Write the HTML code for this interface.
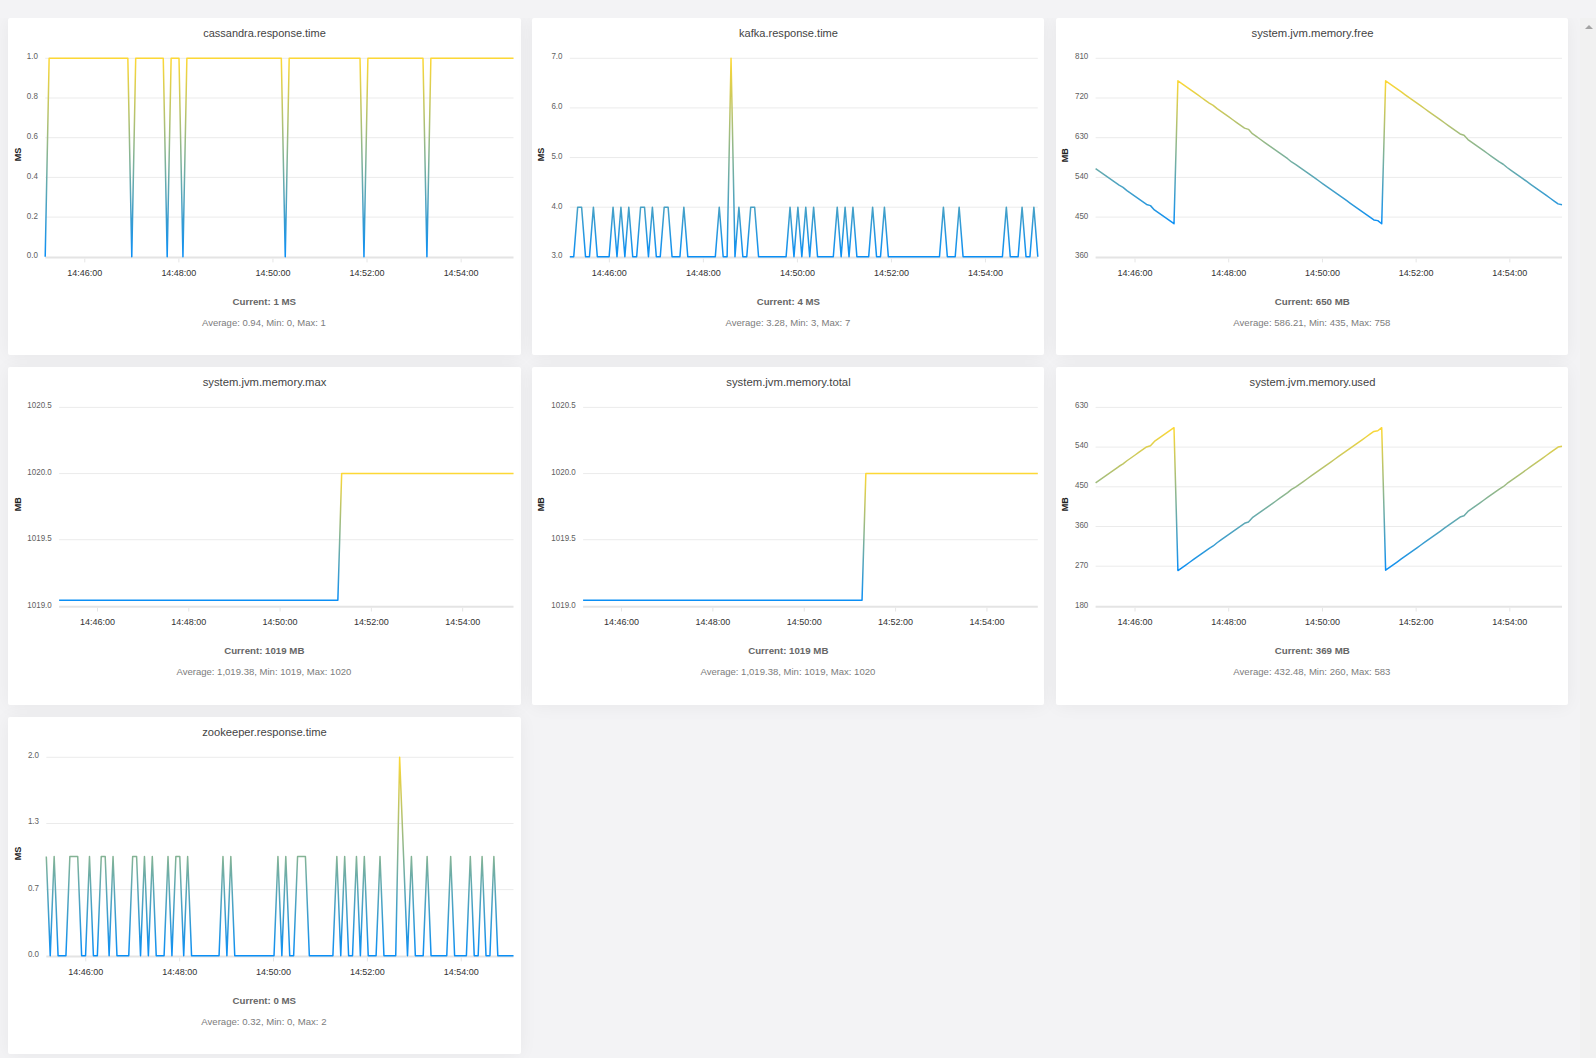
<!DOCTYPE html>
<html lang="en">
<head>
<meta charset="utf-8">
<title>Metrics dashboard</title>
<style>
html,body{margin:0;padding:0}
body{width:1596px;height:1058px;overflow:hidden;background:#f3f3f5;position:relative;font-family:"Liberation Sans",Arial,sans-serif}
.sb{position:absolute;left:1580px;top:18px;width:16px;height:1040px;background:#f1f1f1}
.sb i{position:absolute;left:4.5px;top:6.7px;width:0;height:0;border-left:4px solid transparent;border-right:4px solid transparent;border-bottom:4px solid #a3a3a3}
.wrap{position:absolute;left:0;top:18px;width:1580px;height:1040px;overflow:hidden}
.card{position:absolute;width:512px;background:#fff;border-radius:2px;box-shadow:0 1px 18px rgba(0,0,0,.05)}
.chart{display:block;position:absolute;left:0;top:0;overflow:visible}
.chart text{font-family:"Liberation Sans",Arial,sans-serif}
.ttl{font-size:10px;fill:#444}
.yl{font-size:8.5px;fill:#606060}
.xl{font-size:9.7px;fill:#333}
.yt{font-size:9px;font-weight:bold;fill:#222}
.cur{font-size:9px;font-weight:bold;fill:#666}
.st{font-size:8.8px;fill:#7c7c7c}
.grid{stroke:#ebebeb;stroke-width:1;fill:none}
.axis{stroke:#e4e4e4;stroke-width:2;fill:none}
.tick{stroke:#e6e6e6;stroke-width:1;fill:none}
.ser{fill:none;stroke-width:1.5;stroke-linejoin:round;stroke-linecap:butt}
</style>
</head>
<body>
<div class="sb"><i></i></div>
<div class="wrap">

<div class="card" style="left:8px;top:0px;width:513px;height:337px">
<svg class="chart" width="512" height="337" viewBox="0 0 512 337">
<defs><linearGradient id="g0" x1="0" y1="0" x2="0" y2="1"><stop offset="0" stop-color="#fdd835"/><stop offset="1" stop-color="#0b8ff5"/></linearGradient></defs>
<text class="ttl" x="256.5" y="18.8" text-anchor="middle" textLength="122.5" lengthAdjust="spacingAndGlyphs">cassandra.response.time</text>
<path class="grid" d="M37.2 40.3 H505.5"/>
<text class="yl" x="29.9" y="41" text-anchor="end" textLength="11.12" lengthAdjust="spacingAndGlyphs">1.0</text>
<path class="grid" d="M37.2 80 H505.5"/>
<text class="yl" x="29.9" y="81" text-anchor="end" textLength="11.12" lengthAdjust="spacingAndGlyphs">0.8</text>
<path class="grid" d="M37.2 119.7 H505.5"/>
<text class="yl" x="29.9" y="121" text-anchor="end" textLength="11.12" lengthAdjust="spacingAndGlyphs">0.6</text>
<path class="grid" d="M37.2 159.4 H505.5"/>
<text class="yl" x="29.9" y="161" text-anchor="end" textLength="11.12" lengthAdjust="spacingAndGlyphs">0.4</text>
<path class="grid" d="M37.2 199.1 H505.5"/>
<text class="yl" x="29.9" y="201" text-anchor="end" textLength="11.12" lengthAdjust="spacingAndGlyphs">0.2</text>
<text class="yl" x="29.9" y="240" text-anchor="end" textLength="11.12" lengthAdjust="spacingAndGlyphs">0.0</text>
<text class="yt" transform="translate(13.2 136.4) rotate(-90)" text-anchor="middle">MS</text>
<path class="axis" d="M37.2 239.6 H505.5"/>
<path class="tick" d="M76.79 240.6 V244.4"/>
<text class="xl" x="76.79" y="258" text-anchor="middle" textLength="35" lengthAdjust="spacingAndGlyphs">14:46:00</text>
<path class="tick" d="M170.88 240.6 V244.4"/>
<text class="xl" x="170.88" y="258" text-anchor="middle" textLength="35" lengthAdjust="spacingAndGlyphs">14:48:00</text>
<path class="tick" d="M264.96 240.6 V244.4"/>
<text class="xl" x="264.96" y="258" text-anchor="middle" textLength="35" lengthAdjust="spacingAndGlyphs">14:50:00</text>
<path class="tick" d="M359.04 240.6 V244.4"/>
<text class="xl" x="359.04" y="258" text-anchor="middle" textLength="35" lengthAdjust="spacingAndGlyphs">14:52:00</text>
<path class="tick" d="M453.13 240.6 V244.4"/>
<text class="xl" x="453.13" y="258" text-anchor="middle" textLength="35" lengthAdjust="spacingAndGlyphs">14:54:00</text>
<path class="ser" stroke="url(#g0)" d="M37.2 238.8 L41.14 40.3 L45.07 40.3 L49.01 40.3 L52.94 40.3 L56.88 40.3 L60.81 40.3 L64.75 40.3 L68.68 40.3 L72.62 40.3 L76.55 40.3 L80.49 40.3 L84.42 40.3 L88.36 40.3 L92.29 40.3 L96.23 40.3 L100.16 40.3 L104.1 40.3 L108.04 40.3 L111.97 40.3 L115.91 40.3 L119.84 40.3 L123.78 238.8 L127.71 40.3 L131.65 40.3 L135.58 40.3 L139.52 40.3 L143.45 40.3 L147.39 40.3 L151.32 40.3 L155.26 40.3 L159.19 238.8 L163.13 40.3 L167.06 40.3 L171 40.3 L174.94 238.8 L178.87 40.3 L182.81 40.3 L186.74 40.3 L190.68 40.3 L194.61 40.3 L198.55 40.3 L202.48 40.3 L206.42 40.3 L210.35 40.3 L214.29 40.3 L218.22 40.3 L222.16 40.3 L226.09 40.3 L230.03 40.3 L233.96 40.3 L237.9 40.3 L241.84 40.3 L245.77 40.3 L249.71 40.3 L253.64 40.3 L257.58 40.3 L261.51 40.3 L265.45 40.3 L269.38 40.3 L273.32 40.3 L277.25 238.8 L281.19 40.3 L285.12 40.3 L289.06 40.3 L292.99 40.3 L296.93 40.3 L300.86 40.3 L304.8 40.3 L308.74 40.3 L312.67 40.3 L316.61 40.3 L320.54 40.3 L324.48 40.3 L328.41 40.3 L332.35 40.3 L336.28 40.3 L340.22 40.3 L344.15 40.3 L348.09 40.3 L352.02 40.3 L355.96 238.8 L359.89 40.3 L363.83 40.3 L367.76 40.3 L371.7 40.3 L375.64 40.3 L379.57 40.3 L383.51 40.3 L387.44 40.3 L391.38 40.3 L395.31 40.3 L399.25 40.3 L403.18 40.3 L407.12 40.3 L411.05 40.3 L414.99 40.3 L418.92 238.8 L422.86 40.3 L426.79 40.3 L430.73 40.3 L434.66 40.3 L438.6 40.3 L442.54 40.3 L446.47 40.3 L450.41 40.3 L454.34 40.3 L458.28 40.3 L462.21 40.3 L466.15 40.3 L470.08 40.3 L474.02 40.3 L477.95 40.3 L481.89 40.3 L485.82 40.3 L489.76 40.3 L493.69 40.3 L497.63 40.3 L501.56 40.3 L505.5 40.3"/>
<text class="cur" x="256.3" y="286.8" text-anchor="middle" textLength="63.6" lengthAdjust="spacingAndGlyphs">Current: 1 MS</text>
<text class="st" x="255.9" y="307.9" text-anchor="middle" textLength="123.8" lengthAdjust="spacingAndGlyphs">Average: 0.94, Min: 0, Max: 1</text>
</svg>
</div>
<div class="card" style="left:532px;top:0px;width:512px;height:337px">
<svg class="chart" width="512" height="337" viewBox="0 0 512 337">
<defs><linearGradient id="g1" x1="0" y1="0" x2="0" y2="1"><stop offset="0" stop-color="#fdd835"/><stop offset="1" stop-color="#0b8ff5"/></linearGradient></defs>
<text class="ttl" x="256.5" y="18.8" text-anchor="middle" textLength="98.9" lengthAdjust="spacingAndGlyphs">kafka.response.time</text>
<path class="grid" d="M37.8 40.3 H505.8"/>
<text class="yl" x="30.5" y="41" text-anchor="end" textLength="11.12" lengthAdjust="spacingAndGlyphs">7.0</text>
<path class="grid" d="M37.8 89.92 H505.8"/>
<text class="yl" x="30.5" y="91" text-anchor="end" textLength="11.12" lengthAdjust="spacingAndGlyphs">6.0</text>
<path class="grid" d="M37.8 139.55 H505.8"/>
<text class="yl" x="30.5" y="141" text-anchor="end" textLength="11.12" lengthAdjust="spacingAndGlyphs">5.0</text>
<path class="grid" d="M37.8 189.18 H505.8"/>
<text class="yl" x="30.5" y="191" text-anchor="end" textLength="11.12" lengthAdjust="spacingAndGlyphs">4.0</text>
<text class="yl" x="30.5" y="240" text-anchor="end" textLength="11.12" lengthAdjust="spacingAndGlyphs">3.0</text>
<text class="yt" transform="translate(12.2 136.4) rotate(-90)" text-anchor="middle">MS</text>
<path class="axis" d="M37.8 239.6 H505.8"/>
<path class="tick" d="M77.37 240.6 V244.4"/>
<text class="xl" x="77.37" y="258" text-anchor="middle" textLength="35" lengthAdjust="spacingAndGlyphs">14:46:00</text>
<path class="tick" d="M171.39 240.6 V244.4"/>
<text class="xl" x="171.39" y="258" text-anchor="middle" textLength="35" lengthAdjust="spacingAndGlyphs">14:48:00</text>
<path class="tick" d="M265.41 240.6 V244.4"/>
<text class="xl" x="265.41" y="258" text-anchor="middle" textLength="35" lengthAdjust="spacingAndGlyphs">14:50:00</text>
<path class="tick" d="M359.44 240.6 V244.4"/>
<text class="xl" x="359.44" y="258" text-anchor="middle" textLength="35" lengthAdjust="spacingAndGlyphs">14:52:00</text>
<path class="tick" d="M453.46 240.6 V244.4"/>
<text class="xl" x="453.46" y="258" text-anchor="middle" textLength="35" lengthAdjust="spacingAndGlyphs">14:54:00</text>
<path class="ser" stroke="url(#g1)" d="M37.8 238.8 L41.73 238.8 L45.67 189.18 L49.6 189.18 L53.53 238.8 L57.46 238.8 L61.4 189.18 L65.33 238.8 L69.26 238.8 L73.19 238.8 L77.13 238.8 L81.06 189.18 L84.99 238.8 L88.93 189.18 L92.86 238.8 L96.79 189.18 L100.72 238.8 L104.66 238.8 L108.59 189.18 L112.52 189.18 L116.46 238.8 L120.39 189.18 L124.32 238.8 L128.25 238.8 L132.19 189.18 L136.12 189.18 L140.05 238.8 L143.98 238.8 L147.92 238.8 L151.85 189.18 L155.78 238.8 L159.72 238.8 L163.65 238.8 L167.58 238.8 L171.51 238.8 L175.45 238.8 L179.38 238.8 L183.31 238.8 L187.25 189.18 L191.18 238.8 L195.11 238.8 L199.04 40.3 L202.98 238.8 L206.91 189.18 L210.84 238.8 L214.77 238.8 L218.71 189.18 L222.64 189.18 L226.57 238.8 L230.51 238.8 L234.44 238.8 L238.37 238.8 L242.3 238.8 L246.24 238.8 L250.17 238.8 L254.1 238.8 L258.04 189.18 L261.97 238.8 L265.9 189.18 L269.83 238.8 L273.77 189.18 L277.7 238.8 L281.63 189.18 L285.56 238.8 L289.5 238.8 L293.43 238.8 L297.36 238.8 L301.3 238.8 L305.23 189.18 L309.16 238.8 L313.09 189.18 L317.03 238.8 L320.96 189.18 L324.89 238.8 L328.83 238.8 L332.76 238.8 L336.69 238.8 L340.62 189.18 L344.56 238.8 L348.49 238.8 L352.42 189.18 L356.35 238.8 L360.29 238.8 L364.22 238.8 L368.15 238.8 L372.09 238.8 L376.02 238.8 L379.95 238.8 L383.88 238.8 L387.82 238.8 L391.75 238.8 L395.68 238.8 L399.62 238.8 L403.55 238.8 L407.48 238.8 L411.41 189.18 L415.35 238.8 L419.28 238.8 L423.21 238.8 L427.14 189.18 L431.08 238.8 L435.01 238.8 L438.94 238.8 L442.88 238.8 L446.81 238.8 L450.74 238.8 L454.67 238.8 L458.61 238.8 L462.54 238.8 L466.47 238.8 L470.41 238.8 L474.34 189.18 L478.27 238.8 L482.2 238.8 L486.14 238.8 L490.07 189.18 L494 238.8 L497.93 238.8 L501.87 189.18 L505.8 238.8"/>
<text class="cur" x="256.3" y="286.8" text-anchor="middle" textLength="63.1" lengthAdjust="spacingAndGlyphs">Current: 4 MS</text>
<text class="st" x="255.9" y="307.9" text-anchor="middle" textLength="124.7" lengthAdjust="spacingAndGlyphs">Average: 3.28, Min: 3, Max: 7</text>
</svg>
</div>
<div class="card" style="left:1056px;top:0px;width:512px;height:337px">
<svg class="chart" width="512" height="337" viewBox="0 0 512 337">
<defs><linearGradient id="g2" x1="0" y1="0" x2="0" y2="1"><stop offset="0" stop-color="#fdd835"/><stop offset="1" stop-color="#0b8ff5"/></linearGradient></defs>
<text class="ttl" x="256.5" y="18.8" text-anchor="middle" textLength="122" lengthAdjust="spacingAndGlyphs">system.jvm.memory.free</text>
<path class="grid" d="M39.6 40.3 H506"/>
<text class="yl" x="32.3" y="41" text-anchor="end" textLength="13.34" lengthAdjust="spacingAndGlyphs">810</text>
<path class="grid" d="M39.6 80 H506"/>
<text class="yl" x="32.3" y="81" text-anchor="end" textLength="13.34" lengthAdjust="spacingAndGlyphs">720</text>
<path class="grid" d="M39.6 119.7 H506"/>
<text class="yl" x="32.3" y="121" text-anchor="end" textLength="13.34" lengthAdjust="spacingAndGlyphs">630</text>
<path class="grid" d="M39.6 159.4 H506"/>
<text class="yl" x="32.3" y="161" text-anchor="end" textLength="13.34" lengthAdjust="spacingAndGlyphs">540</text>
<path class="grid" d="M39.6 199.1 H506"/>
<text class="yl" x="32.3" y="201" text-anchor="end" textLength="13.34" lengthAdjust="spacingAndGlyphs">450</text>
<text class="yl" x="32.3" y="240" text-anchor="end" textLength="13.34" lengthAdjust="spacingAndGlyphs">360</text>
<text class="yt" transform="translate(12.2 137.2) rotate(-90)" text-anchor="middle">MB</text>
<path class="axis" d="M39.6 239.6 H506"/>
<path class="tick" d="M79.03 240.6 V244.4"/>
<text class="xl" x="79.03" y="258" text-anchor="middle" textLength="35" lengthAdjust="spacingAndGlyphs">14:46:00</text>
<path class="tick" d="M172.73 240.6 V244.4"/>
<text class="xl" x="172.73" y="258" text-anchor="middle" textLength="35" lengthAdjust="spacingAndGlyphs">14:48:00</text>
<path class="tick" d="M266.44 240.6 V244.4"/>
<text class="xl" x="266.44" y="258" text-anchor="middle" textLength="35" lengthAdjust="spacingAndGlyphs">14:50:00</text>
<path class="tick" d="M360.14 240.6 V244.4"/>
<text class="xl" x="360.14" y="258" text-anchor="middle" textLength="35" lengthAdjust="spacingAndGlyphs">14:52:00</text>
<path class="tick" d="M453.84 240.6 V244.4"/>
<text class="xl" x="453.84" y="258" text-anchor="middle" textLength="35" lengthAdjust="spacingAndGlyphs">14:54:00</text>
<path class="ser" stroke="url(#g2)" d="M39.6 150.58 L43.52 153.33 L47.44 156.09 L51.36 158.85 L55.28 161.61 L59.2 164.36 L63.12 167.12 L67.04 169.44 L70.95 172.63 L74.87 175.39 L78.79 178.15 L82.71 180.9 L86.63 183.66 L90.55 186.42 L94.47 187.63 L98.39 191.93 L102.31 194.69 L106.23 197.45 L110.15 200.2 L114.07 202.96 L117.99 205.72 L121.91 62.8 L125.83 65.58 L129.74 68.36 L133.66 71.15 L137.58 73.93 L141.5 76.71 L145.42 79.5 L149.34 82.28 L153.26 85.06 L157.18 87.41 L161.1 90.63 L165.02 93.41 L168.94 96.2 L172.86 98.98 L176.78 101.76 L180.7 104.55 L184.62 107.33 L188.53 110.11 L192.45 111.35 L196.37 115.68 L200.29 118.46 L204.21 121.25 L208.13 124.03 L212.05 126.82 L215.97 129.6 L219.89 132.38 L223.81 135.17 L227.73 137.95 L231.65 140.73 L235.57 143.96 L239.49 146.3 L243.41 149.08 L247.32 151.87 L251.24 154.65 L255.16 157.43 L259.08 160.22 L263 163 L266.92 165.78 L270.84 168.57 L274.76 171.35 L278.68 174.13 L282.6 176.92 L286.52 179.7 L290.44 182.48 L294.36 185.27 L298.28 188.05 L302.19 190.83 L306.11 193.62 L310.03 196.4 L313.95 199.18 L317.87 201.92 L321.79 202.63 L325.71 205.72 L329.63 62.8 L333.55 65.59 L337.47 68.39 L341.39 71.19 L345.31 73.98 L349.23 76.78 L353.15 79.58 L357.07 82.37 L360.98 85.17 L364.9 87.97 L368.82 90.76 L372.74 93.56 L376.66 96.36 L380.58 99.15 L384.5 101.95 L388.42 104.75 L392.34 107.54 L396.26 110.34 L400.18 113.14 L404.1 115.93 L408.02 117.19 L411.94 121.53 L415.86 124.32 L419.77 127.12 L423.69 129.92 L427.61 132.71 L431.53 135.51 L435.45 138.31 L439.37 141.1 L443.29 143.9 L447.21 146.25 L451.13 149.49 L455.05 152.29 L458.97 155.09 L462.89 157.88 L466.81 160.68 L470.73 163.48 L474.65 166.27 L478.56 169.07 L482.48 171.87 L486.4 174.66 L490.32 177.46 L494.24 180.26 L498.16 183.05 L502.08 185.87 L506 186.66"/>
<text class="cur" x="256.3" y="286.8" text-anchor="middle" textLength="75" lengthAdjust="spacingAndGlyphs">Current: 650 MB</text>
<text class="st" x="255.9" y="307.9" text-anchor="middle" textLength="157.1" lengthAdjust="spacingAndGlyphs">Average: 586.21, Min: 435, Max: 758</text>
</svg>
</div>
<div class="card" style="left:8px;top:349px;width:513px;height:338px">
<svg class="chart" width="512" height="338" viewBox="0 0 512 338">
<defs><linearGradient id="g3" x1="0" y1="0" x2="0" y2="1"><stop offset="0" stop-color="#fdd835"/><stop offset="1" stop-color="#0b8ff5"/></linearGradient></defs>
<text class="ttl" x="256.5" y="18.8" text-anchor="middle" textLength="123.7" lengthAdjust="spacingAndGlyphs">system.jvm.memory.max</text>
<path class="grid" d="M51.1 40.4 H505.5"/>
<text class="yl" x="43.8" y="41" text-anchor="end" textLength="24.46" lengthAdjust="spacingAndGlyphs">1020.5</text>
<path class="grid" d="M51.1 106.57 H505.5"/>
<text class="yl" x="43.8" y="108" text-anchor="end" textLength="24.46" lengthAdjust="spacingAndGlyphs">1020.0</text>
<path class="grid" d="M51.1 172.73 H505.5"/>
<text class="yl" x="43.8" y="174" text-anchor="end" textLength="24.46" lengthAdjust="spacingAndGlyphs">1019.5</text>
<text class="yl" x="43.8" y="241" text-anchor="end" textLength="24.46" lengthAdjust="spacingAndGlyphs">1019.0</text>
<text class="yt" transform="translate(13.2 137.3) rotate(-90)" text-anchor="middle">MB</text>
<path class="axis" d="M51.1 239.7 H505.5"/>
<path class="tick" d="M89.52 240.7 V244.5"/>
<text class="xl" x="89.52" y="258" text-anchor="middle" textLength="35" lengthAdjust="spacingAndGlyphs">14:46:00</text>
<path class="tick" d="M180.81 240.7 V244.5"/>
<text class="xl" x="180.81" y="258" text-anchor="middle" textLength="35" lengthAdjust="spacingAndGlyphs">14:48:00</text>
<path class="tick" d="M272.1 240.7 V244.5"/>
<text class="xl" x="272.1" y="258" text-anchor="middle" textLength="35" lengthAdjust="spacingAndGlyphs">14:50:00</text>
<path class="tick" d="M363.39 240.7 V244.5"/>
<text class="xl" x="363.39" y="258" text-anchor="middle" textLength="35" lengthAdjust="spacingAndGlyphs">14:52:00</text>
<path class="tick" d="M454.68 240.7 V244.5"/>
<text class="xl" x="454.68" y="258" text-anchor="middle" textLength="35" lengthAdjust="spacingAndGlyphs">14:54:00</text>
<path class="ser" stroke="url(#g3)" d="M51.1 233.21 L54.92 233.21 L58.74 233.21 L62.56 233.21 L66.37 233.21 L70.19 233.21 L74.01 233.21 L77.83 233.21 L81.65 233.21 L85.47 233.21 L89.28 233.21 L93.1 233.21 L96.92 233.21 L100.74 233.21 L104.56 233.21 L108.38 233.21 L112.2 233.21 L116.01 233.21 L119.83 233.21 L123.65 233.21 L127.47 233.21 L131.29 233.21 L135.11 233.21 L138.93 233.21 L142.74 233.21 L146.56 233.21 L150.38 233.21 L154.2 233.21 L158.02 233.21 L161.84 233.21 L165.65 233.21 L169.47 233.21 L173.29 233.21 L177.11 233.21 L180.93 233.21 L184.75 233.21 L188.57 233.21 L192.38 233.21 L196.2 233.21 L200.02 233.21 L203.84 233.21 L207.66 233.21 L211.48 233.21 L215.29 233.21 L219.11 233.21 L222.93 233.21 L226.75 233.21 L230.57 233.21 L234.39 233.21 L238.21 233.21 L242.02 233.21 L245.84 233.21 L249.66 233.21 L253.48 233.21 L257.3 233.21 L261.12 233.21 L264.94 233.21 L268.75 233.21 L272.57 233.21 L276.39 233.21 L280.21 233.21 L284.03 233.21 L287.85 233.21 L291.66 233.21 L295.48 233.21 L299.3 233.21 L303.12 233.21 L306.94 233.21 L310.76 233.21 L314.58 233.21 L318.39 233.21 L322.21 233.21 L326.03 233.21 L329.85 233.21 L333.67 106.57 L337.49 106.57 L341.31 106.57 L345.12 106.57 L348.94 106.57 L352.76 106.57 L356.58 106.57 L360.4 106.57 L364.22 106.57 L368.03 106.57 L371.85 106.57 L375.67 106.57 L379.49 106.57 L383.31 106.57 L387.13 106.57 L390.95 106.57 L394.76 106.57 L398.58 106.57 L402.4 106.57 L406.22 106.57 L410.04 106.57 L413.86 106.57 L417.67 106.57 L421.49 106.57 L425.31 106.57 L429.13 106.57 L432.95 106.57 L436.77 106.57 L440.59 106.57 L444.4 106.57 L448.22 106.57 L452.04 106.57 L455.86 106.57 L459.68 106.57 L463.5 106.57 L467.32 106.57 L471.13 106.57 L474.95 106.57 L478.77 106.57 L482.59 106.57 L486.41 106.57 L490.23 106.57 L494.04 106.57 L497.86 106.57 L501.68 106.57 L505.5 106.57"/>
<text class="cur" x="256.3" y="286.9" text-anchor="middle" textLength="80.2" lengthAdjust="spacingAndGlyphs">Current: 1019 MB</text>
<text class="st" x="255.9" y="308" text-anchor="middle" textLength="174.9" lengthAdjust="spacingAndGlyphs">Average: 1,019.38, Min: 1019, Max: 1020</text>
</svg>
</div>
<div class="card" style="left:532px;top:349px;width:512px;height:338px">
<svg class="chart" width="512" height="338" viewBox="0 0 512 338">
<defs><linearGradient id="g4" x1="0" y1="0" x2="0" y2="1"><stop offset="0" stop-color="#fdd835"/><stop offset="1" stop-color="#0b8ff5"/></linearGradient></defs>
<text class="ttl" x="256.5" y="18.8" text-anchor="middle" textLength="124.4" lengthAdjust="spacingAndGlyphs">system.jvm.memory.total</text>
<path class="grid" d="M51.1 40.4 H505.8"/>
<text class="yl" x="43.8" y="41" text-anchor="end" textLength="24.46" lengthAdjust="spacingAndGlyphs">1020.5</text>
<path class="grid" d="M51.1 106.57 H505.8"/>
<text class="yl" x="43.8" y="108" text-anchor="end" textLength="24.46" lengthAdjust="spacingAndGlyphs">1020.0</text>
<path class="grid" d="M51.1 172.73 H505.8"/>
<text class="yl" x="43.8" y="174" text-anchor="end" textLength="24.46" lengthAdjust="spacingAndGlyphs">1019.5</text>
<text class="yl" x="43.8" y="241" text-anchor="end" textLength="24.46" lengthAdjust="spacingAndGlyphs">1019.0</text>
<text class="yt" transform="translate(12.2 137.3) rotate(-90)" text-anchor="middle">MB</text>
<path class="axis" d="M51.1 239.7 H505.8"/>
<path class="tick" d="M89.54 240.7 V244.5"/>
<text class="xl" x="89.54" y="258" text-anchor="middle" textLength="35" lengthAdjust="spacingAndGlyphs">14:46:00</text>
<path class="tick" d="M180.89 240.7 V244.5"/>
<text class="xl" x="180.89" y="258" text-anchor="middle" textLength="35" lengthAdjust="spacingAndGlyphs">14:48:00</text>
<path class="tick" d="M272.25 240.7 V244.5"/>
<text class="xl" x="272.25" y="258" text-anchor="middle" textLength="35" lengthAdjust="spacingAndGlyphs">14:50:00</text>
<path class="tick" d="M363.6 240.7 V244.5"/>
<text class="xl" x="363.6" y="258" text-anchor="middle" textLength="35" lengthAdjust="spacingAndGlyphs">14:52:00</text>
<path class="tick" d="M454.95 240.7 V244.5"/>
<text class="xl" x="454.95" y="258" text-anchor="middle" textLength="35" lengthAdjust="spacingAndGlyphs">14:54:00</text>
<path class="ser" stroke="url(#g4)" d="M51.1 233.21 L54.92 233.21 L58.74 233.21 L62.56 233.21 L66.38 233.21 L70.21 233.21 L74.03 233.21 L77.85 233.21 L81.67 233.21 L85.49 233.21 L89.31 233.21 L93.13 233.21 L96.95 233.21 L100.77 233.21 L104.59 233.21 L108.42 233.21 L112.24 233.21 L116.06 233.21 L119.88 233.21 L123.7 233.21 L127.52 233.21 L131.34 233.21 L135.16 233.21 L138.98 233.21 L142.8 233.21 L146.63 233.21 L150.45 233.21 L154.27 233.21 L158.09 233.21 L161.91 233.21 L165.73 233.21 L169.55 233.21 L173.37 233.21 L177.19 233.21 L181.01 233.21 L184.84 233.21 L188.66 233.21 L192.48 233.21 L196.3 233.21 L200.12 233.21 L203.94 233.21 L207.76 233.21 L211.58 233.21 L215.4 233.21 L219.22 233.21 L223.05 233.21 L226.87 233.21 L230.69 233.21 L234.51 233.21 L238.33 233.21 L242.15 233.21 L245.97 233.21 L249.79 233.21 L253.61 233.21 L257.43 233.21 L261.26 233.21 L265.08 233.21 L268.9 233.21 L272.72 233.21 L276.54 233.21 L280.36 233.21 L284.18 233.21 L288 233.21 L291.82 233.21 L295.64 233.21 L299.47 233.21 L303.29 233.21 L307.11 233.21 L310.93 233.21 L314.75 233.21 L318.57 233.21 L322.39 233.21 L326.21 233.21 L330.03 233.21 L333.85 106.57 L337.68 106.57 L341.5 106.57 L345.32 106.57 L349.14 106.57 L352.96 106.57 L356.78 106.57 L360.6 106.57 L364.42 106.57 L368.24 106.57 L372.06 106.57 L375.89 106.57 L379.71 106.57 L383.53 106.57 L387.35 106.57 L391.17 106.57 L394.99 106.57 L398.81 106.57 L402.63 106.57 L406.45 106.57 L410.27 106.57 L414.1 106.57 L417.92 106.57 L421.74 106.57 L425.56 106.57 L429.38 106.57 L433.2 106.57 L437.02 106.57 L440.84 106.57 L444.66 106.57 L448.48 106.57 L452.31 106.57 L456.13 106.57 L459.95 106.57 L463.77 106.57 L467.59 106.57 L471.41 106.57 L475.23 106.57 L479.05 106.57 L482.87 106.57 L486.69 106.57 L490.52 106.57 L494.34 106.57 L498.16 106.57 L501.98 106.57 L505.8 106.57"/>
<text class="cur" x="256.3" y="286.9" text-anchor="middle" textLength="80.2" lengthAdjust="spacingAndGlyphs">Current: 1019 MB</text>
<text class="st" x="255.9" y="308" text-anchor="middle" textLength="174.9" lengthAdjust="spacingAndGlyphs">Average: 1,019.38, Min: 1019, Max: 1020</text>
</svg>
</div>
<div class="card" style="left:1056px;top:349px;width:512px;height:338px">
<svg class="chart" width="512" height="338" viewBox="0 0 512 338">
<defs><linearGradient id="g5" x1="0" y1="0" x2="0" y2="1"><stop offset="0" stop-color="#fdd835"/><stop offset="1" stop-color="#0b8ff5"/></linearGradient></defs>
<text class="ttl" x="256.5" y="18.8" text-anchor="middle" textLength="125.8" lengthAdjust="spacingAndGlyphs">system.jvm.memory.used</text>
<path class="grid" d="M39.6 40.4 H506"/>
<text class="yl" x="32.3" y="41" text-anchor="end" textLength="13.34" lengthAdjust="spacingAndGlyphs">630</text>
<path class="grid" d="M39.6 80.1 H506"/>
<text class="yl" x="32.3" y="81" text-anchor="end" textLength="13.34" lengthAdjust="spacingAndGlyphs">540</text>
<path class="grid" d="M39.6 119.8 H506"/>
<text class="yl" x="32.3" y="121" text-anchor="end" textLength="13.34" lengthAdjust="spacingAndGlyphs">450</text>
<path class="grid" d="M39.6 159.5 H506"/>
<text class="yl" x="32.3" y="161" text-anchor="end" textLength="13.34" lengthAdjust="spacingAndGlyphs">360</text>
<path class="grid" d="M39.6 199.2 H506"/>
<text class="yl" x="32.3" y="201" text-anchor="end" textLength="13.34" lengthAdjust="spacingAndGlyphs">270</text>
<text class="yl" x="32.3" y="241" text-anchor="end" textLength="13.34" lengthAdjust="spacingAndGlyphs">180</text>
<text class="yt" transform="translate(12.2 137.3) rotate(-90)" text-anchor="middle">MB</text>
<path class="axis" d="M39.6 239.7 H506"/>
<path class="tick" d="M79.03 240.7 V244.5"/>
<text class="xl" x="79.03" y="258" text-anchor="middle" textLength="35" lengthAdjust="spacingAndGlyphs">14:46:00</text>
<path class="tick" d="M172.73 240.7 V244.5"/>
<text class="xl" x="172.73" y="258" text-anchor="middle" textLength="35" lengthAdjust="spacingAndGlyphs">14:48:00</text>
<path class="tick" d="M266.44 240.7 V244.5"/>
<text class="xl" x="266.44" y="258" text-anchor="middle" textLength="35" lengthAdjust="spacingAndGlyphs">14:50:00</text>
<path class="tick" d="M360.14 240.7 V244.5"/>
<text class="xl" x="360.14" y="258" text-anchor="middle" textLength="35" lengthAdjust="spacingAndGlyphs">14:52:00</text>
<path class="tick" d="M453.84 240.7 V244.5"/>
<text class="xl" x="453.84" y="258" text-anchor="middle" textLength="35" lengthAdjust="spacingAndGlyphs">14:54:00</text>
<path class="ser" stroke="url(#g5)" d="M39.6 115.81 L43.52 113.05 L47.44 110.3 L51.36 107.54 L55.28 104.78 L59.2 102.03 L63.12 99.27 L67.04 96.95 L70.95 93.76 L74.87 91 L78.79 88.24 L82.71 85.48 L86.63 82.73 L90.55 79.97 L94.47 78.76 L98.39 74.46 L102.31 71.7 L106.23 68.94 L110.15 66.19 L114.07 63.43 L117.99 60.67 L121.91 203.59 L125.83 200.81 L129.74 198.03 L133.66 195.24 L137.58 192.46 L141.5 189.68 L145.42 186.89 L149.34 184.11 L153.26 181.32 L157.18 178.98 L161.1 175.76 L165.02 172.97 L168.94 170.19 L172.86 167.41 L176.78 164.62 L180.7 161.84 L184.62 159.06 L188.53 156.27 L192.45 155.03 L196.37 150.71 L200.29 147.92 L204.21 145.14 L208.13 142.36 L212.05 139.57 L215.97 136.79 L219.89 134.01 L223.81 131.22 L227.73 128.44 L231.65 125.66 L235.57 122.43 L239.49 120.09 L243.41 117.31 L247.32 114.52 L251.24 111.74 L255.16 108.96 L259.08 106.17 L263 103.39 L266.92 100.61 L270.84 97.82 L274.76 95.04 L278.68 92.26 L282.6 89.47 L286.52 86.69 L290.44 83.91 L294.36 81.12 L298.28 78.34 L302.19 75.56 L306.11 72.77 L310.03 69.99 L313.95 67.2 L317.87 64.47 L321.79 63.76 L325.71 60.67 L329.63 203.17 L333.55 200.37 L337.47 197.58 L341.39 194.78 L345.31 191.98 L349.23 189.19 L353.15 186.39 L357.07 183.59 L360.98 180.8 L364.9 178 L368.82 175.2 L372.74 172.41 L376.66 169.61 L380.58 166.81 L384.5 164.02 L388.42 161.22 L392.34 158.42 L396.26 155.63 L400.18 152.83 L404.1 150.03 L408.02 148.78 L411.94 144.44 L415.86 141.64 L419.77 138.85 L423.69 136.05 L427.61 133.25 L431.53 130.46 L435.45 127.66 L439.37 124.86 L443.29 122.07 L447.21 119.71 L451.13 116.47 L455.05 113.68 L458.97 110.88 L462.89 108.08 L466.81 105.29 L470.73 102.49 L474.65 99.69 L478.56 96.9 L482.48 94.1 L486.4 91.3 L490.32 88.51 L494.24 85.71 L498.16 82.91 L502.08 80.1 L506 79.31"/>
<text class="cur" x="256.3" y="286.9" text-anchor="middle" textLength="75" lengthAdjust="spacingAndGlyphs">Current: 369 MB</text>
<text class="st" x="255.9" y="308" text-anchor="middle" textLength="157.1" lengthAdjust="spacingAndGlyphs">Average: 432.48, Min: 260, Max: 583</text>
</svg>
</div>
<div class="card" style="left:8px;top:699px;width:513px;height:337px">
<svg class="chart" width="512" height="337" viewBox="0 0 512 337">
<defs><linearGradient id="g6" x1="0" y1="0" x2="0" y2="1"><stop offset="0" stop-color="#fdd835"/><stop offset="1" stop-color="#0b8ff5"/></linearGradient></defs>
<text class="ttl" x="256.5" y="18.8" text-anchor="middle" textLength="124.6" lengthAdjust="spacingAndGlyphs">zookeeper.response.time</text>
<path class="grid" d="M38.3 40.3 H505.5"/>
<text class="yl" x="31" y="41" text-anchor="end" textLength="11.12" lengthAdjust="spacingAndGlyphs">2.0</text>
<path class="grid" d="M38.3 106.47 H505.5"/>
<text class="yl" x="31" y="107" text-anchor="end" textLength="11.12" lengthAdjust="spacingAndGlyphs">1.3</text>
<path class="grid" d="M38.3 172.63 H505.5"/>
<text class="yl" x="31" y="174" text-anchor="end" textLength="11.12" lengthAdjust="spacingAndGlyphs">0.7</text>
<text class="yl" x="31" y="240" text-anchor="end" textLength="11.12" lengthAdjust="spacingAndGlyphs">0.0</text>
<text class="yt" transform="translate(13.2 136.4) rotate(-90)" text-anchor="middle">MS</text>
<path class="axis" d="M38.3 239.6 H505.5"/>
<path class="tick" d="M77.8 240.6 V244.4"/>
<text class="xl" x="77.8" y="258" text-anchor="middle" textLength="35" lengthAdjust="spacingAndGlyphs">14:46:00</text>
<path class="tick" d="M171.66 240.6 V244.4"/>
<text class="xl" x="171.66" y="258" text-anchor="middle" textLength="35" lengthAdjust="spacingAndGlyphs">14:48:00</text>
<path class="tick" d="M265.53 240.6 V244.4"/>
<text class="xl" x="265.53" y="258" text-anchor="middle" textLength="35" lengthAdjust="spacingAndGlyphs">14:50:00</text>
<path class="tick" d="M359.39 240.6 V244.4"/>
<text class="xl" x="359.39" y="258" text-anchor="middle" textLength="35" lengthAdjust="spacingAndGlyphs">14:52:00</text>
<path class="tick" d="M453.25 240.6 V244.4"/>
<text class="xl" x="453.25" y="258" text-anchor="middle" textLength="35" lengthAdjust="spacingAndGlyphs">14:54:00</text>
<path class="ser" stroke="url(#g6)" d="M38.3 139.55 L42.23 238.8 L46.15 139.55 L50.08 238.8 L54 238.8 L57.93 238.8 L61.86 139.55 L65.78 139.55 L69.71 139.55 L73.63 238.8 L77.56 238.8 L81.49 139.55 L85.41 238.8 L89.34 238.8 L93.26 139.55 L97.19 139.55 L101.12 238.8 L105.04 139.55 L108.97 238.8 L112.89 238.8 L116.82 238.8 L120.75 238.8 L124.67 139.55 L128.6 139.55 L132.53 238.8 L136.45 139.55 L140.38 238.8 L144.3 139.55 L148.23 238.8 L152.16 238.8 L156.08 238.8 L160.01 139.55 L163.93 238.8 L167.86 139.55 L171.79 139.55 L175.71 238.8 L179.64 139.55 L183.56 238.8 L187.49 238.8 L191.42 238.8 L195.34 238.8 L199.27 238.8 L203.19 238.8 L207.12 238.8 L211.05 238.8 L214.97 139.55 L218.9 238.8 L222.82 139.55 L226.75 238.8 L230.68 238.8 L234.6 238.8 L238.53 238.8 L242.45 238.8 L246.38 238.8 L250.31 238.8 L254.23 238.8 L258.16 238.8 L262.08 238.8 L266.01 238.8 L269.94 139.55 L273.86 238.8 L277.79 139.55 L281.72 238.8 L285.64 238.8 L289.57 139.55 L293.49 139.55 L297.42 139.55 L301.35 238.8 L305.27 238.8 L309.2 238.8 L313.12 238.8 L317.05 238.8 L320.98 238.8 L324.9 238.8 L328.83 139.55 L332.75 238.8 L336.68 139.55 L340.61 238.8 L344.53 238.8 L348.46 139.55 L352.38 238.8 L356.31 139.55 L360.24 238.8 L364.16 238.8 L368.09 238.8 L372.01 139.55 L375.94 238.8 L379.87 238.8 L383.79 238.8 L387.72 238.8 L391.64 40.3 L395.57 139.55 L399.5 238.8 L403.42 139.55 L407.35 238.8 L411.27 238.8 L415.2 238.8 L419.13 139.55 L423.05 238.8 L426.98 238.8 L430.91 238.8 L434.83 238.8 L438.76 238.8 L442.68 139.55 L446.61 238.8 L450.54 238.8 L454.46 238.8 L458.39 238.8 L462.31 139.55 L466.24 238.8 L470.17 238.8 L474.09 139.55 L478.02 238.8 L481.94 238.8 L485.87 139.55 L489.8 238.8 L493.72 238.8 L497.65 238.8 L501.57 238.8 L505.5 238.8"/>
<text class="cur" x="256.3" y="286.8" text-anchor="middle" textLength="63.4" lengthAdjust="spacingAndGlyphs">Current: 0 MS</text>
<text class="st" x="255.9" y="307.9" text-anchor="middle" textLength="125.2" lengthAdjust="spacingAndGlyphs">Average: 0.32, Min: 0, Max: 2</text>
</svg>
</div>
</div>
</body>
</html>
